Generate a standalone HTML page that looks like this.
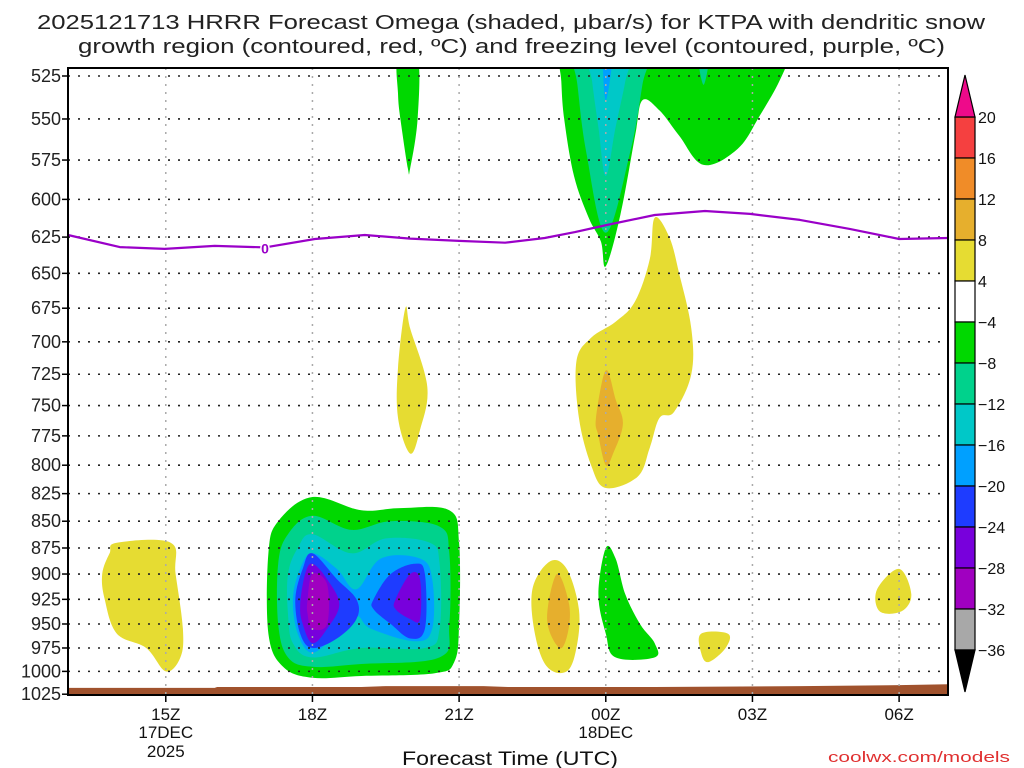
<!DOCTYPE html>
<html><head><meta charset="utf-8"><style>
body{margin:0;background:#fff;}
svg{display:block;font-family:"Liberation Sans","DejaVu Sans",sans-serif;}
</style></head><body>
<svg id="chart" width="1024" height="768" viewBox="0 0 1024 768" xmlns="http://www.w3.org/2000/svg">
<text x="37" y="29" font-size="20" textLength="948" lengthAdjust="spacingAndGlyphs" fill="#222">2025121713 HRRR Forecast Omega (shaded, μbar/s) for KTPA with dendritic snow</text>
<text x="78" y="53" font-size="20" textLength="867" lengthAdjust="spacingAndGlyphs" fill="#222">growth region (contoured, red, ºC) and freezing level (contoured, purple, ºC)</text>
<g id="fills"></g>
<g id="grid"></g>
<g id="lines"></g>
<g id="axes"></g>
<g id="cbar"></g>
<text x="402" y="765" font-size="19" textLength="216" lengthAdjust="spacingAndGlyphs" fill="#111">Forecast Time (UTC)</text>
<text x="828" y="762" font-size="15" textLength="182" lengthAdjust="spacingAndGlyphs" fill="#e03030">coolwx.com/models</text>
</svg>
<script>
// Data arrays (hours since 13Z 17DEC, pressure hPa)
const pressureTicks=[525,550,575,600,625,650,675,700,725,750,775,800,825,850,875,900,925,950,975,1000,1025];
const timeTickHours=[2,5,8,11,14,17];
const timeTickLabels=["15Z","18Z","21Z","00Z","03Z","06Z"];
const dateLabels={2:["17DEC","2025"],11:["18DEC"]};
const freezingLevel=[[0,623.6],[1.06,631.8],[1.98,633],[3,631],[4.03,632],[5.05,626.3],[6.07,623.6],[7,626],[8,627.6],[8.94,628.8],[9.75,625.6],[10.37,621.6],[11.02,616.9],[12,610.2],[13.03,607.6],[13.95,609.5],[14.97,613.5],[15.99,619.5],[17,626.3],[18,625.6]];
const terrain=[[0,1018],[3,1018],[3.05,1017],[6,1017],[6.5,1016],[8.5,1016],[9,1017],[12,1017],[15,1016],[17,1015],[18,1014]];
const cbarLevels=["20","16","12","8","4","−4","−8","−12","−16","−20","−24","−28","−32","−36"];
const cbarColors=["#f54040","#f08c28","#e6af2d","#e6dc32","#ffffff","#00d800","#00d28c","#00c8c8","#00a0ff","#1e3cff","#7800dc","#a000c0","#a8a8a8"];
const C={y4:"#e6dc32",y8:"#e6af2d",g4:"#00d800",g8:"#00d28c",c12:"#00c8c8",b16:"#00a0ff",b20:"#1e3cff",p24:"#7800dc",m28:"#a000c0"};
const contours=[
 ["yellow-left",C.y4,[[1.0,870],[2.1,870],[2.2,900],[2.35,955],[2.3,985],[2.0,1000],[1.6,975],[1.0,960],[0.75,925],[0.7,900],[0.85,880]]],
 ["green-main",C.g4,[[4.3,850],[5.0,828],[6.0,840],[6.8,838],[7.8,840],[8.0,870],[8.0,950],[7.9,990],[7.5,1002],[6.0,1005],[5.0,1007],[4.4,995],[4.1,960],[4.1,880]]],
 ["teal-main",C.g8,[[4.5,862],[5.0,845],[5.8,858],[6.6,850],[7.6,855],[7.8,880],[7.8,950],[7.6,985],[6.0,992],[5.0,995],[4.5,985],[4.3,950],[4.3,890]]],
 ["cyan-main",C.c12,[[4.7,875],[5.0,862],[5.8,880],[6.5,866],[7.4,870],[7.6,890],[7.6,955],[7.3,975],[6.0,975],[5.0,985],[4.6,970],[4.5,940],[4.5,900]]],
 ["lightblue-main",C.b16,[[4.75,895],[5.0,880],[5.5,895],[5.9,915],[6.4,885],[7.2,885],[7.45,905],[7.45,955],[7.1,968],[6.2,955],[5.9,942],[5.5,960],[5.0,980],[4.7,960],[4.6,925]]],
 ["blue-left",C.b20,[[4.65,925],[4.8,895],[5.0,880],[5.5,905],[5.9,925],[5.9,945],[5.5,965],[5.0,975],[4.75,960]]],
 ["blue-right",C.b20,[[6.25,925],[6.6,900],[7.1,890],[7.3,900],[7.3,955],[7.0,965],[6.6,950],[6.25,935]]],
 ["purple-left",C.p24,[[4.75,930],[4.85,900],[5.0,890],[5.3,905],[5.55,930],[5.3,955],[5.0,970],[4.8,950]]],
 ["purple-right",C.p24,[[6.7,925],[7.0,900],[7.2,905],[7.2,945],[7.0,945],[6.7,935]]],
 ["magenta-left",C.m28,[[4.9,925],[5.0,900],[5.3,910],[5.3,950],[5.0,955],[4.9,940]]],
 ["yellow-20z",C.y4,[[6.9,675],[7.0,690],[7.35,735],[7.2,770],[7.0,790],[6.75,760],[6.75,720]]],
 ["green-20z-top",C.g4,[[6.75,515],[7.15,515],[7.15,550],[7.0,580],[6.95,580],[6.8,550],[6.75,535]]],
 ["yellow-23z",C.y4,[[9.85,888],[10.2,895],[10.45,935],[10.4,975],[10.2,1000],[9.8,995],[9.55,960],[9.5,915]]],
 ["orange-23z",C.y8,[[10.0,900],[10.25,930],[10.22,960],[10.05,975],[9.8,945]]],
 ["green-00z-low",C.g4,[[11.0,875],[11.2,885],[11.4,920],[11.7,950],[12.0,970],[12.0,985],[11.2,985],[11.0,960],[10.85,920]]],
 ["yellow-01z-low",C.y4,[[12.95,960],[13.5,960],[13.45,975],[13.1,990],[12.95,980]]],
 ["yellow-06z",C.y4,[[17.0,895],[17.25,920],[17.05,937],[16.6,937],[16.55,915]]],
 ["yellow-00z-mid",C.y4,[[12.0,612],[12.3,625],[12.5,650],[12.75,690],[12.75,725],[12.4,755],[12.1,760],[11.9,785],[11.65,810],[11.0,820],[10.7,800],[10.45,760],[10.4,715],[10.7,697],[11.2,685],[11.6,670],[11.9,640]]],
 ["orange-00z-mid",C.y8,[[11.0,722],[11.2,745],[11.35,765],[11.15,790],[11.0,800],[10.85,775],[10.8,760]]],
 ["green-00z-top",C.g4,[[10.08,515],[10.5,515],[14.3,515],[14.7,515],[14.55,528],[14.15,548],[13.7,568],[13.0,578],[12.5,560],[12.1,545],[11.75,539],[11.6,560],[11.3,610],[11.0,645],[10.9,628],[10.65,612],[10.35,585],[10.15,550],[10.09,528]]],
 ["teal-00z-top",C.g8,[[10.37,515],[11.0,515],[11.82,515],[11.75,530],[11.5,570],[11.0,622],[10.6,570],[10.42,530]]],
 ["cyan-00z-top",C.c12,[[10.68,515],[11.45,515],[11.4,528],[11.2,555],[11.0,585],[10.85,555],[10.72,528]]],
 ["lightblue-00z-top",C.b16,[[10.95,515],[11.13,515],[11.0,539]]],
 ["teal-01z-top",C.g8,[[12.9,515],[13.1,515],[13.0,530]]]
];
const X0=68,X1=948,Y0=68,Y1=695;
function xs(h){return X0+h*(X1-X0)/18;}
function ys(p){return 76+924*Math.log(p/525);}
const NS="http://www.w3.org/2000/svg";
function mk(tag,parent,attrs){const e=document.createElementNS(NS,tag);for(const k in attrs)e.setAttribute(k,attrs[k]);parent.appendChild(e);return e;}
function smoothClosed(pts){
 const n=pts.length,t=0.35;let d='M'+pts[0][0].toFixed(1)+','+pts[0][1].toFixed(1);
 for(let i=0;i<n;i++){
  const p0=pts[(i-1+n)%n],p1=pts[i],p2=pts[(i+1)%n],p3=pts[(i+2)%n];
  const c1=[p1[0]+(p2[0]-p0[0])*t/2,p1[1]+(p2[1]-p0[1])*t/2];
  const c2=[p2[0]-(p3[0]-p1[0])*t/2,p2[1]-(p3[1]-p1[1])*t/2];
  d+=' C'+c1.map(v=>v.toFixed(1)).join(',')+' '+c2.map(v=>v.toFixed(1)).join(',')+' '+p2.map(v=>v.toFixed(1)).join(',');
 }
 return d+'Z';
}
const fills=document.getElementById('fills'),grid=document.getElementById('grid'),lines=document.getElementById('lines'),axes=document.getElementById('axes'),cbar=document.getElementById('cbar');
const defs=mk('defs',document.getElementById('chart'),{});
const cp=mk('clipPath',defs,{id:'plotclip'});mk('rect',cp,{x:X0,y:Y0,width:X1-X0,height:Y1-Y0});
fills.setAttribute('clip-path','url(#plotclip)');
contours.forEach(c=>{
 const pts=c[2].map(q=>[xs(q[0]),ys(q[1])]);
 const p=mk('path',fills,{d:smoothClosed(pts),fill:c[1]});
 
 
});
const tp=terrain.map(q=>xs(q[0]).toFixed(1)+','+ys(q[1]).toFixed(1));
const terr=mk('polygon',fills,{points:tp.join(' ')+' '+X1+','+Y1+' '+X0+','+Y1,fill:'#a0522d'});


pressureTicks.forEach(p=>{
 const y=ys(p);
 if(p<1025){const g=mk('line',grid,{x1:X0,x2:X1,y1:y,y2:y,stroke:'#222','stroke-width':1.6,'stroke-dasharray':'2 8'});
 
 }
 mk('line',axes,{x1:X0-6,x2:X0,y1:y,y2:y,stroke:'#000','stroke-width':1.5});
 const t=mk('text',axes,{x:X0-7,y:y+6,'font-size':18,'text-anchor':'end',fill:'#222'});t.textContent=p;
 
 
});
timeTickHours.forEach((h,i)=>{
 const x=xs(h);
 const g=mk('line',grid,{x1:x,x2:x,y1:Y0,y2:Y1,stroke:'#aaa','stroke-width':1.5,'stroke-dasharray':'2 6'});
 
 
 mk('line',axes,{x1:x,x2:x,y1:Y1,y2:Y1+7,stroke:'#000','stroke-width':1.5});
 const t=mk('text',axes,{x:x,y:Y1+25,'font-size':17,'text-anchor':'middle',fill:'#111'});t.textContent=timeTickLabels[i];
 
 
 (dateLabels[h]||[]).forEach((s,j)=>{const d=mk('text',axes,{x:x,y:Y1+43+j*19,'font-size':17,'text-anchor':'middle',fill:'#111'});d.textContent=s;
  
  });
});
const fl=mk('polyline',lines,{points:freezingLevel.map(q=>xs(q[0]).toFixed(1)+','+ys(q[1]).toFixed(1)).join(' '),fill:'none',stroke:'#9a00c8','stroke-width':2.2,'stroke-linejoin':'round'});


const fz=mk('text',lines,{x:xs(4.03),y:ys(632)+6,'font-size':14,'font-weight':'bold','text-anchor':'middle',fill:'#9a00c8',stroke:'#fff','stroke-width':3,'paint-order':'stroke'});fz.textContent='0';


mk('rect',axes,{x:X0,y:Y0,width:X1-X0,height:Y1-Y0,fill:'none',stroke:'#000','stroke-width':2});
const CX=955,CW=20,CT=117,CS=41.0;
cbarColors.forEach((c,i)=>{const r=mk('rect',cbar,{x:CX,y:CT+i*CS,width:CW,height:CS,fill:c,stroke:'#000','stroke-width':1.2});
 
 });
const cb=CT+cbarColors.length*CS;
mk('polygon',cbar,{points:`${CX},${CT} ${CX+CW},${CT} ${CX+CW/2},${CT-42}`,fill:'#ee0a8a',stroke:'#000','stroke-width':1.2});
mk('polygon',cbar,{points:`${CX},${cb} ${CX+CW},${cb} ${CX+CW/2},${cb+42}`,fill:'#000',stroke:'#000','stroke-width':1.2});
cbarLevels.forEach((s,i)=>{const t=mk('text',cbar,{x:978,y:CT+i*CS+6,'font-size':16,fill:'#111'});t.textContent=s;
 
 });
</script>
</body></html>
